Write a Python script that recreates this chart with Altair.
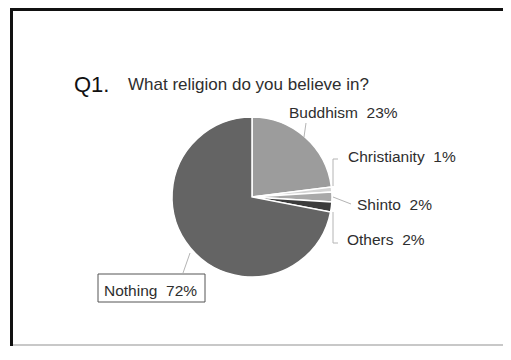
import altair as alt
import pandas as pd

# ---- data ----
categories = ["Buddhism", "Christianity", "Shinto", "Others", "Nothing"]
percents = [23, 1, 2, 2, 72]
slice_colors = ["#9c9c9c", "#d4d4d4", "#a9a9a9", "#3c3c3c", "#646464"]
question_no = "Q1."
question = "What religion do you believe in?"

df = pd.DataFrame({
    "category": categories,
    "pct": percents,
    "order": list(range(len(categories))),
})
df["label"] = df["category"] + "\u00a0\u00a0" + df["pct"].astype(str) + "%"

W, H = 495, 338
CX, CY, R = 244, 189, 80
FONT = "Liberation Sans"
one = pd.DataFrame({"a": [0]})

# ---- frame (decoration) ----
frame = [
    alt.Chart(one).mark_rect(color="#111111").encode(
        x=alt.value(2), x2=alt.value(W + 30), y=alt.value(0), y2=alt.value(3)),
    alt.Chart(one).mark_rect(color="#111111").encode(
        x=alt.value(2), x2=alt.value(5), y=alt.value(0), y2=alt.value(H)),
    alt.Chart(one).mark_rect(color="#c8c8c8").encode(
        x=alt.value(5), x2=alt.value(W + 30), y=alt.value(H - 2), y2=alt.value(H)),
]

# ---- pie ----
pie = alt.Chart(df).mark_arc(radius=R, stroke="white", strokeWidth=1.5).encode(
    theta=alt.Theta("pct:Q", stack=True),
    order=alt.Order("order:Q"),
    color=alt.Color("category:N", scale=alt.Scale(domain=categories, range=slice_colors), legend=None),
    x=alt.value(CX),
    y=alt.value(CY),
)

# ---- leader lines (layout) ----
seg_color = "#b4b4b4"
segments = [
    (298, 115, 296, 129),   # Buddhism
    (325, 151, 330, 151),   # Christianity bracket top
    (325, 151, 325, 178),   # Christianity bracket vertical
    (325, 189, 343, 196),   # Shinto
    (325, 204, 325, 235),   # Others bracket vertical
    (325, 235, 330, 235),   # Others bracket bottom
    (182, 245, 175, 265),   # Nothing
]
leaders = [
    alt.Chart(one).mark_rule(color=seg_color, strokeWidth=1).encode(
        x=alt.value(a), y=alt.value(b), x2=alt.value(c), y2=alt.value(d))
    for a, b, c, d in segments
]

# box around Nothing label
box = alt.Chart(one).mark_rect(fill="white", stroke="#555555", strokeWidth=1).encode(
    x=alt.value(90), x2=alt.value(197), y=alt.value(266), y2=alt.value(294))

# ---- labels (layout positions per category) ----
label_pos = {
    "Buddhism": (281, 110),
    "Christianity": (340, 154),
    "Shinto": (349, 202),
    "Others": (339, 237),
    "Nothing": (96, 288),
}
labels = [
    alt.Chart(df).transform_filter(alt.datum.category == cat).mark_text(
        align="left", baseline="alphabetic", font=FONT, fontSize=15.5, color="#2e2e2e"
    ).encode(x=alt.value(px), y=alt.value(py), text="label:N")
    for cat, (px, py) in label_pos.items()
]

title_df = pd.DataFrame({"q": [question_no], "t": [question]})
qno = alt.Chart(title_df).mark_text(
    align="left", baseline="alphabetic", font=FONT, fontSize=22, color="#111111"
).encode(x=alt.value(66), y=alt.value(84), text="q:N")
qtext = alt.Chart(title_df).mark_text(
    align="left", baseline="alphabetic", font=FONT, fontSize=17, color="#2e2e2e"
).encode(x=alt.value(120), y=alt.value(82), text="t:N")

chart = alt.layer(*frame, pie, *leaders, box, *labels, qno, qtext).properties(
    width=W, height=H, padding=0,
    autosize=alt.AutoSizeParams(type="none"),
).configure_view(stroke=None)

chart.save("out.html", embed_options={"renderer": "svg", "actions": False})
